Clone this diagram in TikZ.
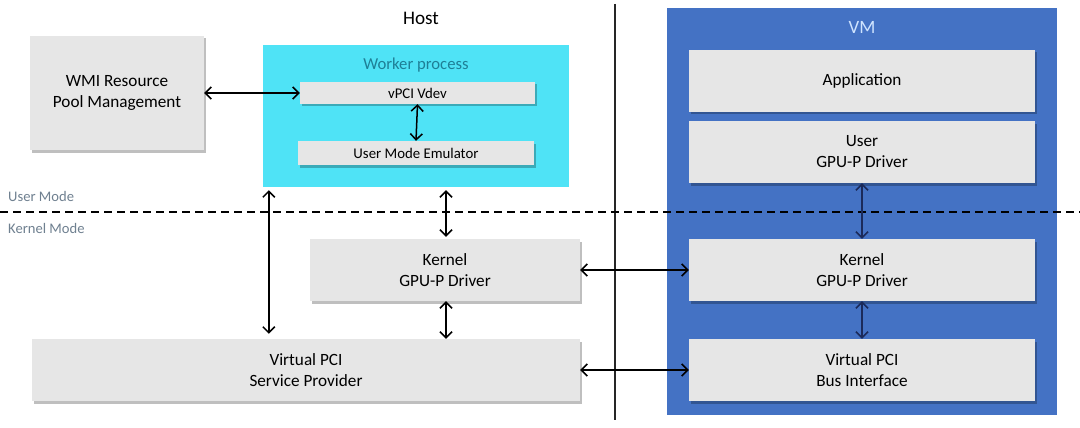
\documentclass[tikz,border=0pt]{standalone}
\usepackage{fontspec}
\setmainfont{Carlito}
\usetikzlibrary{arrows.meta,shadows,calc}
\definecolor{boxgray}{HTML}{E6E6E6}
\definecolor{cyanbg}{HTML}{4FE3F6}
\definecolor{vmblue}{HTML}{4472C4}
\definecolor{tealtxt}{HTML}{1E7F96}
\definecolor{vmtxt}{HTML}{CFE4FF}
\definecolor{modetxt}{HTML}{6F8090}
\definecolor{navy}{HTML}{1B2A5A}
\tikzset{
  grbox/.style={fill=boxgray, draw=none, inner sep=0pt, align=center,
    font=\fontsize{17.2}{21}\selectfont,
    drop shadow={shadow xshift=2pt, shadow yshift=-2.5pt, fill=black, opacity=0.25}},
  smbox/.style={grbox, font=\fontsize{14.8}{17}\selectfont},
  biarrow/.style={{Straight Barb[length=6pt,width=12pt]}-{Straight Barb[length=6pt,width=12pt]}, line width=1.5pt, black},
  navyarrow/.style={biarrow, navy},
  modelabel/.style={anchor=west, text=modetxt, font=\fontsize{14.6}{17}\selectfont, inner sep=0pt}
}
\begin{document}
\begin{tikzpicture}[x=1pt,y=-1pt]
\useasboundingbox[fill=white] (0,0) rectangle (1080,428);
% regions
\node[fill=cyanbg, minimum width=306, minimum height=142, inner sep=0pt] (worker) at (416,116) {};
\node[fill=vmblue, minimum width=390, minimum height=407, inner sep=0pt] (vm) at (862,211.5) {};
\node[text=tealtxt, font=\fontsize{16.7}{20}\selectfont] (workerlbl) at (416,65) {Worker process};
\node[text=vmtxt, font=\fontsize{18.8}{21}\selectfont] (vmlbl) at (862,27) {VM};
\node[font=\fontsize{19.2}{23}\selectfont] (hostlbl) at (421,18) {Host};
% divider and mode line
\coordinate (divtop) at (615,4);
\coordinate (divbot) at (615,420);
\draw[line width=1.2pt, black!85] (divtop) -- (divbot);
\coordinate (dashl) at (0,212);
\coordinate (dashr) at (1080,212);
\draw[line width=1.5pt, dash pattern=on 8pt off 5pt] (dashl) -- (dashr);
\node[modelabel] (umode) at (8,196) {User Mode};
\node[modelabel] (kmode) at (8,228) {Kernel Mode};
% host boxes
\node[grbox, minimum width=174, minimum height=114] (wmi) at (117,93) {WMI Resource\\Pool Management};
\node[smbox, minimum width=235, minimum height=22] (vdev) at (417.5,93) {vPCI Vdev};
\node[smbox, minimum width=236, minimum height=24] (ume) at (416,153) {User Mode Emulator};
\node[grbox, minimum width=270, minimum height=62] (hkern) at (445,270) {Kernel\\GPU-P Driver};
\node[grbox, minimum width=548, minimum height=62] (vsp) at (306,370) {Virtual PCI\\Service Provider};
% vm boxes
\node[grbox, minimum width=346, minimum height=62] (app) at (862,81) {Application};
\node[grbox, minimum width=346, minimum height=62] (ugpu) at (862,152) {User\\GPU-P Driver};
\node[grbox, minimum width=346, minimum height=62] (vkern) at (862,270) {Kernel\\GPU-P Driver};
\node[grbox, minimum width=346, minimum height=62] (vbus) at (862,370) {Virtual PCI\\Bus Interface};
% arrows
\draw[biarrow] (wmi.east) -- (vdev.west);
\draw[biarrow] (vdev.south) -- (ume.north);
\draw[biarrow, shorten <=3pt, shorten >=2pt] (worker.south -| 446,0) -- (hkern.north -| 446,0);
\coordinate (lefttop) at ($(worker.south west)+(6,0)$);
\draw[biarrow, shorten <=3pt, shorten >=5pt] (lefttop) -- (lefttop |- vsp.north);
\draw[biarrow] (hkern.south -| 446,0) -- (vsp.north -| 446,0);
\draw[biarrow] (hkern.east) -- (vkern.west);
\draw[biarrow] (vsp.east) -- (vbus.west);
\draw[navyarrow] (ugpu.south) -- (vkern.north);
\draw[navyarrow] (vkern.south) -- (vbus.north);
\end{tikzpicture}
\end{document}
